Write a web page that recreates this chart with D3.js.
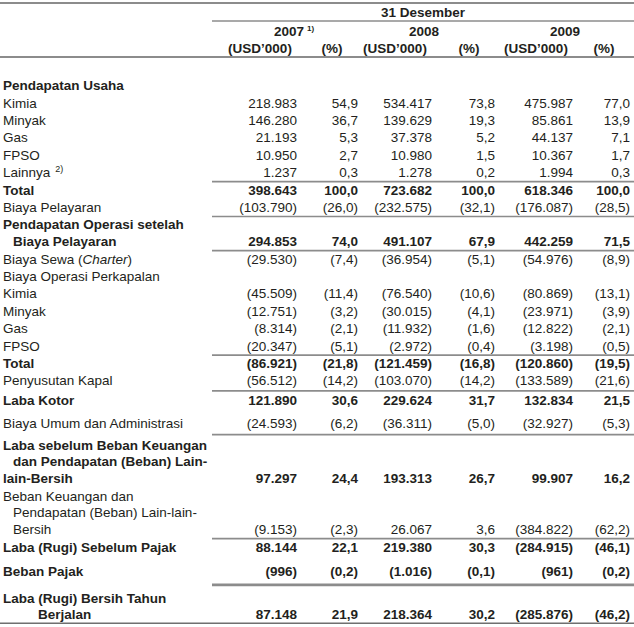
<!DOCTYPE html>
<html>
<head>
<meta charset="utf-8">
<script src="https://cdn.jsdelivr.net/npm/d3@7"></script>
<style>
  body { margin: 0; background: #fff; }
  text { font-family: "Liberation Sans", Arial, Helvetica, sans-serif; fill: #231f20; }
</style>
</head>
<body>
<div id="table"></div>
<script>
// header texts
var periodLabel = "31 Desember";
var years = ["2007", "2008", "2009"];
var yearNotes = ["1)", "", ""];
var unitLabels = ["(USD\u2019000)", "(%)"];

// row labels (one array of lines per row), _word_ = italic
var rowLabels = [
    ["Pendapatan Usaha"],
    ["Kimia"],
    ["Minyak"],
    ["Gas"],
    ["FPSO"],
    ["Lainnya"],
    ["Total"],
    ["Biaya Pelayaran"],
    ["Pendapatan Operasi setelah", "Biaya Pelayaran"],
    ["Biaya Sewa (_Charter_)"],
    ["Biaya Operasi Perkapalan"],
    ["Kimia"],
    ["Minyak"],
    ["Gas"],
    ["FPSO"],
    ["Total"],
    ["Penyusutan Kapal"],
    ["Laba Kotor"],
    ["Biaya Umum dan Administrasi"],
    ["Laba sebelum Beban Keuangan", "dan Pendapatan (Beban) Lain-", "lain-Bersih"],
    ["Beban Keuangan dan", "Pendapatan (Beban) Lain-lain-", "Bersih"],
    ["Laba (Rugi) Sebelum Pajak"],
    ["Beban Pajak"],
    ["Laba (Rugi) Bersih Tahun", "Berjalan"]
];
var rowNotes = ["", "", "", "", "", "2)", "", "", "", "", "", "", "", "", "", "", "", "", "", "", "", "", "", ""];

// values in USD'000 and percent, null = empty cell
var usd2007 = [null, 218983, 146280, 21193, 10950, 1237, 398643, -103790, 294853, -29530, null,
    -45509, -12751, -8314, -20347, -86921, -56512, 121890, -24593, 97297, -9153, 88144, -996, 87148];
var pct2007 = [null, 54.9, 36.7, 5.3, 2.7, 0.3, 100.0, -26.0, 74.0, -7.4, null,
    -11.4, -3.2, -2.1, -5.1, -21.8, -14.2, 30.6, -6.2, 24.4, -2.3, 22.1, -0.2, 21.9];
var usd2008 = [null, 534417, 139629, 37378, 10980, 1278, 723682, -232575, 491107, -36954, null,
    -76540, -30015, -11932, -2972, -121459, -103070, 229624, -36311, 193313, 26067, 219380, -1016, 218364];
var pct2008 = [null, 73.8, 19.3, 5.2, 1.5, 0.2, 100.0, -32.1, 67.9, -5.1, null,
    -10.6, -4.1, -1.6, -0.4, -16.8, -14.2, 31.7, -5.0, 26.7, 3.6, 30.3, -0.1, 30.2];
var usd2009 = [null, 475987, 85861, 44137, 10367, 1994, 618346, -176087, 442259, -54976, null,
    -80869, -23971, -12822, -3198, -120860, -133589, 132834, -32927, 99907, -384822, -284915, -961, -285876];
var pct2009 = [null, 77.0, 13.9, 7.1, 1.7, 0.3, 100.0, -28.5, 71.5, -8.9, null,
    -13.1, -3.9, -2.1, -0.5, -19.5, -21.6, 21.5, -5.3, 16.2, -62.2, -46.1, -0.2, -46.2];

// layout: which rows are bold, extra space, rules and wrapped-line indents
var boldRows = [0, 6, 8, 15, 17, 19, 21, 22, 23];
var gapBefore = {17: 2, 18: 6, 19: 4, 22: 6.6, 23: 9.6};
var ruleAfter = [5, 7, 8, 14, 16, 18, 20, 22];
var thickRule = [22];
var lineIndent = {8: [3, 13], 19: [3, 13, 3], 20: [3, 13, 13], 23: [3, 38]};

var w = 634, h = 627;
var fontSize = 13.5;
var rowStep = 17.4, wrapStep = 16.8, firstLine = 85.5;
var ruleColor = "#8c8c8c";

var columns = [
    {key: "u07", values: usd2007, pct: false},
    {key: "p07", values: pct2007, pct: true},
    {key: "u08", values: usd2008, pct: false},
    {key: "p08", values: pct2008, pct: true},
    {key: "u09", values: usd2009, pct: false},
    {key: "p09", values: pct2009, pct: true}
];

// right edge of each column
var xRight = d3.scaleOrdinal()
    .domain(columns.map(function(c) { return c.key; }))
    .range([297, 358, 432, 495, 573, 630]);

var locale = d3.formatLocale({decimal: ",", thousands: ".", grouping: [3], currency: ["", ""]});
var fmtUsd = locale.format("(,.0f");
var fmtPct = locale.format("(,.1f");

// work out the vertical position of every text line
var rows = [];
var y = firstLine;
rowLabels.forEach(function(lines, i) {
    if (i > 0) y += rowStep + (gapBefore[i] || 0);
    var ys = lines.map(function(l, j) { return y + j * wrapStep; });
    y = ys[ys.length - 1];
    rows.push({i: i, lines: lines, ys: ys, bold: boldRows.indexOf(i) >= 0});
});

var svg = d3.select("#table")
    .append("svg")
    .attr("width", w)
    .attr("height", h);

function baseline(c) { return c + fontSize * 0.355; }

// header rules
svg.append("line")
    .attr("x1", 0).attr("x2", w).attr("y1", 3).attr("y2", 3)
    .attr("stroke", ruleColor).attr("stroke-width", 2);
svg.append("line")
    .attr("x1", 212).attr("x2", w).attr("y1", 21).attr("y2", 21)
    .attr("stroke", ruleColor).attr("stroke-width", 1.7);
svg.append("line")
    .attr("x1", 0).attr("x2", w).attr("y1", 57).attr("y2", 57)
    .attr("stroke", ruleColor).attr("stroke-width", 2);

// header texts
svg.append("text")
    .attr("x", (212 + w) / 2)
    .attr("y", baseline(12))
    .attr("text-anchor", "middle")
    .style("font-size", fontSize + "px")
    .style("font-weight", "bold")
    .text(periodLabel);

years.forEach(function(yr, k) {
    var usdKey = columns[k * 2].key, pctKey = columns[k * 2 + 1].key;
    var cx = xRight(usdKey) - 8;
    var t = svg.append("text")
        .attr("x", cx)
        .attr("y", baseline(31))
        .attr("text-anchor", "middle")
        .style("font-size", fontSize + "px")
        .style("font-weight", "bold")
        .text(yr);
    if (yearNotes[k]) {
        var tw = t.node().getComputedTextLength();
        svg.append("text")
            .attr("x", cx + tw / 2 + 3)
            .attr("y", baseline(31) - 5)
            .style("font-size", "8px")
            .style("font-weight", "bold")
            .text(yearNotes[k]);
    }
    svg.append("text")
        .attr("x", xRight(usdKey) - 37)
        .attr("y", baseline(48))
        .attr("text-anchor", "middle")
        .style("font-size", fontSize + "px")
        .style("font-weight", "bold")
        .text(unitLabels[0]);
    svg.append("text")
        .attr("x", xRight(pctKey) - 26)
        .attr("y", baseline(48))
        .attr("text-anchor", "middle")
        .style("font-size", fontSize + "px")
        .style("font-weight", "bold")
        .text(unitLabels[1]);
});

// row labels
rows.forEach(function(r) {
    r.lines.forEach(function(line, j) {
        var indent = lineIndent[r.i] ? lineIndent[r.i][j] : 3;
        var t = svg.append("text")
            .attr("x", indent)
            .attr("y", baseline(r.ys[j]))
            .style("font-size", fontSize + "px")
            .style("font-weight", r.bold ? "bold" : "normal");
        line.split("_").forEach(function(part, p) {
            if (!part) return;
            t.append("tspan")
                .style("font-style", p % 2 ? "italic" : "normal")
                .text(part);
        });
        if (rowNotes[r.i] && j == r.lines.length - 1) {
            t.append("tspan")
                .attr("dx", 5)
                .attr("dy", -5)
                .style("font-size", "9px")
                .text(rowNotes[r.i]);
        }
    });
});

// values, right aligned on the last line of each row
columns.forEach(function(col) {
    svg.selectAll("text.v-" + col.key)
        .data(rows.filter(function(r) { return col.values[r.i] != null; }))
        .enter()
        .append("text")
        .attr("class", "v-" + col.key)
        .attr("x", xRight(col.key))
        .attr("y", function(r) { return baseline(r.ys[r.ys.length - 1]); })
        .attr("text-anchor", "end")
        .style("font-size", fontSize + "px")
        .style("font-weight", function(r) { return r.bold ? "bold" : "normal"; })
        .text(function(r) { return col.pct ? fmtPct(col.values[r.i]) : fmtUsd(col.values[r.i]); });
});

// subtotal rules, halfway between a row and the next
svg.selectAll("line.rule")
    .data(ruleAfter)
    .enter()
    .append("line")
    .attr("class", "rule")
    .attr("x1", 212)
    .attr("x2", w)
    .attr("y1", function(i) { var a = rows[i].ys; return (a[a.length - 1] + rows[i + 1].ys[0]) / 2 + 0.5; })
    .attr("y2", function(i) { var a = rows[i].ys; return (a[a.length - 1] + rows[i + 1].ys[0]) / 2 + 0.5; })
    .attr("stroke", ruleColor)
    .attr("stroke-width", function(i) { return thickRule.indexOf(i) >= 0 ? 2.6 : 1.7; });

// bottom rule
var last = rows[rows.length - 1].ys;
svg.append("line")
    .attr("x1", 0).attr("x2", w)
    .attr("y1", last[last.length - 1] + 8.5).attr("y2", last[last.length - 1] + 8.5)
    .attr("stroke", "#6f6f6f").attr("stroke-width", 1.4);
</script>
</body>
</html>
